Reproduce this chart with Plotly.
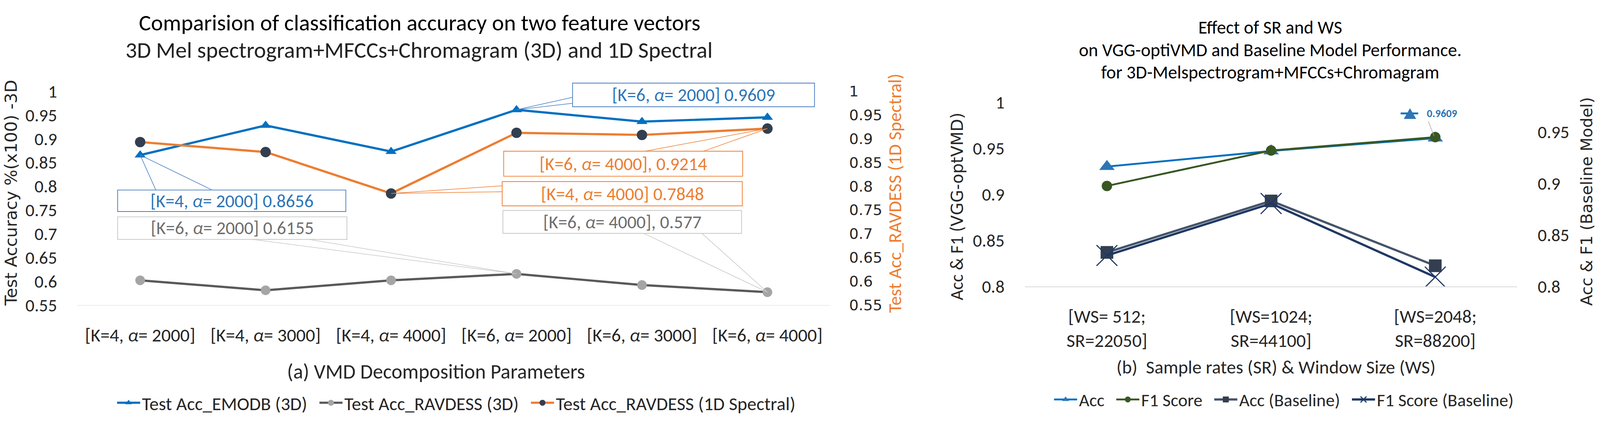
import plotly.graph_objects as go

# ---- (a) VMD decomposition parameters ----
vmd_params = ['[K=4, <i>α</i>= 2000]', '[K=4, <i>α</i>= 3000]', '[K=4, <i>α</i>= 4000]',
              '[K=6, <i>α</i>= 2000]', '[K=6, <i>α</i>= 3000]', '[K=6, <i>α</i>= 4000]']
acc_emodb_3d = [0.8656, 0.928, 0.873, 0.9609, 0.936, 0.945]
acc_ravdess_3d = [0.602, 0.581, 0.602, 0.6155, 0.592, 0.577]
acc_ravdess_1d = [0.893, 0.872, 0.7848, 0.9125, 0.908, 0.9214]
acc_ticks = [0.55, 0.6, 0.65, 0.7, 0.75, 0.8, 0.85, 0.9, 0.95, 1]
acc_ticktext = ['0.55', '0.6', '0.65', '0.7', '0.75', '0.8', '0.85', '0.9', '0.95', '1']

# ---- (b) sample rate / window size ----
sr_ws = ['[WS= 512;<br>SR=22050]', '[WS=1024;<br>SR=44100]', '[WS=2048;<br>SR=88200]']
acc_vgg = [0.930, 0.947, 0.9609]
f1_vgg = [0.909, 0.9475, 0.962]
acc_base = [0.833, 0.883, 0.820]
f1_base = [0.830, 0.8805, 0.809]
vgg_ticks = [0.8, 0.85, 0.9, 0.95, 1]
vgg_ticktext = ['0.8', '0.85', '0.9', '0.95', '1']
base_ticks = [0.8, 0.85, 0.9, 0.95]
base_ticktext = ['0.8', '0.85', '0.9', '0.95']

W, H = 4298, 1148
TXT = 'Calibri, Carlito, Lato, sans-serif'
VER = 'Verdana, DejaVu Sans, sans-serif'
INK = '#262626'
GAP = '\u00a0' * 2   # extra room between legend entries


def fx(p):
    return p / W


def fy(p):
    return 1 - p / H


xa = list(range(len(vmd_params)))
xb = list(range(len(sr_ws)))

fig = go.Figure()

# chart (a)
fig.add_trace(go.Scatter(x=xa, y=acc_emodb_3d, name='Test Acc_EMODB (3D)' + GAP, mode='lines+markers',
                         line=dict(color='#0070C0', width=6),
                         marker=dict(symbol='triangle-up', size=26, color='#0070C0'),
                         xaxis='x', yaxis='y', legend='legend'))
fig.add_trace(go.Scatter(x=xa, y=acc_ravdess_3d, name='Test Acc_RAVDESS (3D)' + GAP, mode='lines+markers',
                         line=dict(color='#595959', width=6),
                         marker=dict(symbol='circle', size=26, color='#A5A5A5'),
                         xaxis='x', yaxis='y', legend='legend'))
fig.add_trace(go.Scatter(x=xa, y=acc_ravdess_1d, name='Test Acc_RAVDESS (1D Spectral)', mode='lines+markers',
                         line=dict(color='#ED7D31', width=6),
                         marker=dict(symbol='circle', size=28, color='#333F50'),
                         xaxis='x', yaxis='y2', legend='legend'))

# chart (b)
fig.add_trace(go.Scatter(x=xb, y=acc_vgg, name='Acc' + GAP, mode='lines+markers',
                         line=dict(color='#0070C0', width=5),
                         marker=dict(symbol='triangle-up', size=36, color='#2E75B6'),
                         xaxis='x2', yaxis='y3', legend='legend2'))
fig.add_trace(go.Scatter(x=xb, y=f1_vgg, name='F1 Score' + GAP, mode='lines+markers',
                         line=dict(color='#385723', width=5),
                         marker=dict(symbol='circle', size=28, color='#385723'),
                         xaxis='x2', yaxis='y3', legend='legend2'))
fig.add_trace(go.Scatter(x=xb, y=acc_base, name='Acc (Baseline)' + GAP, mode='lines+markers',
                         line=dict(color='#44546A', width=6),
                         marker=dict(symbol='square', size=34, color='#333F50'),
                         xaxis='x2', yaxis='y4', legend='legend2'))
fig.add_trace(go.Scatter(x=xb, y=f1_base, name='F1 Score (Baseline)', mode='lines+markers',
                         line=dict(color='#1F3864', width=6),
                         marker=dict(symbol='x-thin', size=56, color='#1F3864',
                                     line=dict(color='#1F3864', width=3)),
                         xaxis='x2', yaxis='y4', legend='legend2'))

hidden_ticks = dict(ticks='outside', tickcolor='rgba(0,0,0,0)', showgrid=False, zeroline=False)

fig.update_layout(
    width=W, height=H,
    margin=dict(l=0, r=0, t=0, b=0),
    paper_bgcolor='white', plot_bgcolor='white',
    font=dict(family=TXT, color=INK),
    xaxis=dict(domain=[fx(208), fx(2230)], anchor='y', range=[-0.5, 5.5],
               tickvals=xa, ticktext=vmd_params, tickfont=dict(size=50, family=TXT, color=INK),
               showline=True, linecolor='#D9D9D9', linewidth=2, ticklen=36, **hidden_ticks),
    yaxis=dict(domain=[fy(834), fy(228)], anchor='x', range=[0.55, 1],
               tickvals=acc_ticks, ticktext=acc_ticktext, tickfont=dict(size=48, family=TXT, color=INK),
               ticklen=44, **hidden_ticks),
    yaxis2=dict(overlaying='y', side='right', anchor='x', range=[0.55, 1],
                tickvals=acc_ticks, ticktext=acc_ticktext, tickfont=dict(size=40, family=VER, color=INK),
                ticklen=42, **hidden_ticks),
    xaxis2=dict(domain=[fx(2753), fx(4076)], anchor='y3', range=[-0.5, 2.5],
                tickvals=xb, ticktext=sr_ws, tickfont=dict(size=50, family=TXT, color=INK),
                showline=True, linecolor='#D9D9D9', linewidth=2, ticklen=36, **hidden_ticks),
    yaxis3=dict(domain=[fy(781), fy(259)], anchor='x2', range=[0.8, 1],
                tickvals=vgg_ticks, ticktext=vgg_ticktext, tickfont=dict(size=48, family=TXT, color=INK),
                ticklen=44, **hidden_ticks),
    yaxis4=dict(overlaying='y3', side='right', anchor='x2', range=[0.8, 0.979],
                tickvals=base_ticks, ticktext=base_ticktext, tickfont=dict(size=48, family=TXT, color=INK),
                ticklen=44, **hidden_ticks),
    legend=dict(orientation='h', x=fx(1226), y=fy(1111), xanchor='center', yanchor='middle',
                font=dict(size=50, family=TXT, color=INK), itemwidth=62, bgcolor='rgba(0,0,0,0)'),
    legend2=dict(orientation='h', x=fx(3449), y=fy(1102), xanchor='center', yanchor='middle',
                 font=dict(size=48, family=TXT, color=INK), itemwidth=62, bgcolor='rgba(0,0,0,0)'),
    showlegend=True,
)

annotations = []
shapes = []


def note(text, x, y, size, family=TXT, color=INK, angle=0):
    annotations.append(dict(text=text, x=fx(x), y=fy(y), xref='paper', yref='paper',
                            xanchor='center', yanchor='middle', showarrow=False, textangle=angle,
                            font=dict(size=size, family=family, color=color)))


# titles
note('Comparision of classification accuracy on two feature vectors', 1127, 34, 61, color='black')
note('3D Mel spectrogram+MFCCs+Chromagram (3D) and 1D Spectral', 1125, 111, 61, color='#222222')
note('Effect of SR and WS', 3412, 46, 49, color='black')
note('on VGG-optiVMD and Baseline Model Performance.', 3412, 111, 49, color='black')
note('for 3D-Melspectrogram+MFCCs+Chromagram', 3412, 174, 49, color='black')

# axis titles
note('Test Accuracy %(x100) -3D', 30, 516, 45, family=VER, angle=-90)
note('Test Acc_RAVDESS (1D Spectral)', 2403, 517, 50, color='#ED7D31', angle=-90)
note('(a) VMD Decomposition Parameters', 1171, 1023, 55)
note('Acc &amp; F1 (<span style="font-family:DejaVu Sans;font-size:44px">VGG-optVMD)</span>',
     2570, 555, 49, angle=-90)
note('Acc &amp; F1 (Baseline Model)', 4262, 541, 43, family=VER, angle=-90)
note('(b)  Sample rates (SR) &amp; Window Size (WS)', 3428, 1009, 50)

# callouts on chart (a): box edges in px (left, top, right, bottom), wedge base points in data units
callouts = [
    dict(series=acc_emodb_3d, i=3, sep=' ', color='#2E75B6', edge='#4A7EC2',
         box=(1538, 205, 2188, 272), base=[(3.451, 0.9874), (3.451, 0.9748)]),
    dict(series=acc_emodb_3d, i=0, sep=' ', color='#2E75B6', edge='#4A7EC2',
         box=(316, 508, 929, 569), base=[(0.125, 0.7921), (0.573, 0.7921)]),
    dict(series=acc_ravdess_3d, i=3, sep=' ', color='#6E6E6E', edge='#C8C8C8',
         box=(316, 584, 932, 648), base=[(0.896, 0.6881), (1.344, 0.6881)]),
    dict(series=acc_ravdess_1d, i=5, sep=', ', color='#ED7D31', edge='#ED7D31',
         box=(1353, 398, 1995, 469), base=[(4.024, 0.8738), (4.490, 0.8738)]),
    dict(series=acc_ravdess_1d, i=2, sep=' ', color='#ED7D31', edge='#ED7D31',
         box=(1349, 484, 1994, 553), base=[(2.890, 0.8010), (2.890, 0.7884)]),
    dict(series=acc_ravdess_3d, i=5, sep=', ', color='#6E6E6E', edge='#C8C8C8',
         box=(1351, 566, 1992, 631), base=[(4.015, 0.7007), (4.478, 0.7007)]),
]
for c in callouts:
    ax, ay = xa[c['i']], c['series'][c['i']]
    (b1x, b1y), (b2x, b2y) = c['base']
    left, top, right, bottom = c['box']
    shapes.append(dict(type='path', xref='x', yref='y', layer='above',
                       path=f'M {b1x},{b1y} L {ax},{ay} L {b2x},{b2y}',
                       line=dict(color=c['edge'], width=1.6)))
    shapes.append(dict(type='rect', xref='paper', yref='paper', layer='above',
                       x0=fx(left), x1=fx(right), y0=fy(bottom), y1=fy(top),
                       line=dict(color=c['edge'], width=2), fillcolor='white'))
    note(f"{vmd_params[c['i']]}{c['sep']}{c['series'][c['i']]:g}",
         (left + right) / 2, (top + bottom) / 2, 49, color=c['color'])

# data label with legend key on chart (b)
shapes.append(dict(type='line', xref='x2', yref='y3', x0=1.789, x1=1.896, y0=0.98774, y1=0.98774,
                   line=dict(color='#0070C0', width=5)))
shapes.append(dict(type='path', xref='x2', yref='y3', path='M 1.810,0.9820 L 1.846,0.9931 L 1.882,0.9820 Z',
                   fillcolor='#2E75B6', line=dict(color='#2E75B6', width=1)))
shapes.append(dict(type='line', xref='x2', yref='y3', x0=1.957, y0=0.9793, x1=xb[2] - 0.007, y1=acc_vgg[2] + 0.0023,
                   line=dict(color='#A6A6A6', width=1.5)))
annotations.append(dict(text=f'<b>{acc_vgg[2]:g}</b>', x=2.041, y=0.98774, xref='x2', yref='y3',
                        xanchor='center', yanchor='middle', showarrow=False,
                        font=dict(size=29, family=TXT, color='#2E75B6')))

fig.update_layout(annotations=annotations, shapes=shapes)

# no page margin, and shrink the page if the window is smaller than the figure
fit_page = (
    "document.body.style.margin='0';"
    "var s=Math.min(window.innerWidth/%d, window.innerHeight/%d);"
    "if(s<1){document.body.style.zoom=s;}" % (W, H)
)
fig.write_html('out.html', post_script=fit_page, config={'displayModeBar': False})
